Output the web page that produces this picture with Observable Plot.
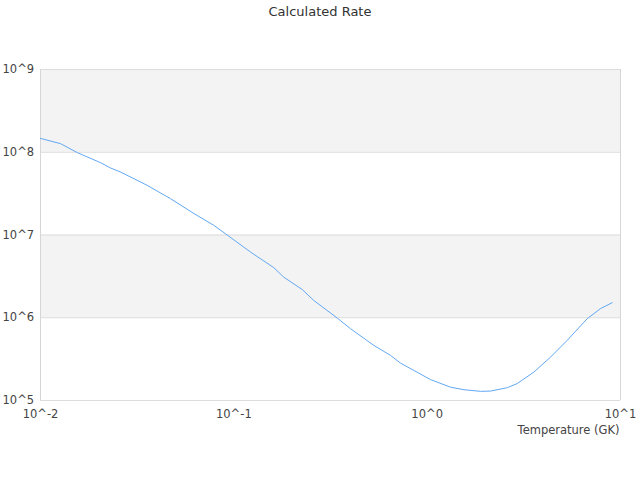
<!DOCTYPE html>
<html>
<head>
<meta charset="utf-8">
<script src="https://cdn.jsdelivr.net/npm/d3@7"></script>
<script src="https://cdn.jsdelivr.net/npm/@observablehq/plot@0.6"></script>
<style>
  body { margin: 0; background: #fff; }
  #title { height: 24px; line-height: 24px; text-align: center; font: 13px "DejaVu Sans", sans-serif; color: #333; position: relative; top: 0; }
  #title span { position: relative; top: 4px; }
</style>
</head>
<body>
<div id="title"><span>Calculated Rate</span></div>
<div id="chart"></div>
<script>
const temperature = [0.01, 0.0127, 0.0155, 0.0204, 0.023, 0.0259, 0.0356, 0.047, 0.0621, 0.0787, 0.0924, 0.122, 0.161, 0.181, 0.226, 0.259, 0.343, 0.401, 0.53, 0.646, 0.728, 0.853, 1.04, 1.32, 1.55, 1.89, 2.13, 2.6, 2.92, 3.56, 4.35, 5.3, 6.73, 7.88, 9.06];
const rate = [1.47e8, 1.27e8, 9.9e7, 7.5e7, 6.46e7, 5.78e7, 3.99e7, 2.75e7, 1.82e7, 1.31e7, 1.0e7, 6.22e6, 4.03e6, 3.10e6, 2.19e6, 1.62e6, 9.9e5, 7.38e5, 4.63e5, 3.51e5, 2.83e5, 2.31e5, 1.79e5, 1.45e5, 1.35e5, 1.29e5, 1.30e5, 1.43e5, 1.60e5, 2.20e5, 3.35e5, 5.33e5, 9.75e5, 1.29e6, 1.52e6];
const xTicks = [0.01, 0.1, 1, 10];
const yTicks = [1e5, 1e6, 1e7, 1e8, 1e9];
const bandLow = [1e6, 1e8];
const bandHigh = [1e7, 1e9];
const xLabel = "Temperature (GK)";

const series = temperature.map((t, i) => ({t, r: rate[i]}));
const bands = bandLow.map((lo, i) => ({lo, hi: bandHigh[i]}));
const fmt = d => "10^" + Math.round(Math.log10(d));

const chart = Plot.plot({
  width: 640,
  height: 456,
  marginTop: 45,
  marginBottom: 80,
  marginLeft: 40,
  marginRight: 20,
  style: {fontFamily: "DejaVu Sans, sans-serif", fontSize: "11.5px", color: "#444", background: "#fff"},
  x: {type: "log", domain: [0.01, 10], label: null},
  y: {type: "log", domain: [1e5, 1e9], label: null},
  marks: [
    Plot.rect(bands, {x1: () => 0.01, x2: () => 10, y1: "lo", y2: "hi", fill: "#f3f3f3"}),
    Plot.ruleY(yTicks, {stroke: "#dcdcdc", strokeWidth: 1}),
    Plot.ruleX(xTicks.filter(d => d === 0.01 || d === 10), {stroke: "#d6d6d6", strokeWidth: 1}),
    Plot.axisY({ticks: yTicks, tickFormat: fmt, tickSize: 0, tickPadding: 0, textAnchor: "start", dx: -38, fill: "#444", label: null}),
    Plot.axisX({ticks: xTicks, tickFormat: fmt, tickSize: 0, tickPadding: 9, fill: "#444", label: null}),
    Plot.line(series, {x: "t", y: "r", stroke: "#62a8f2", strokeWidth: 1}),
    Plot.text([xLabel], {frameAnchor: "bottom-right", textAnchor: "end", dy: 33, dx: -1, fill: "#444", fontSize: 11.5})
  ]
});
document.getElementById("chart").appendChild(chart);
</script>
</body>
</html>
